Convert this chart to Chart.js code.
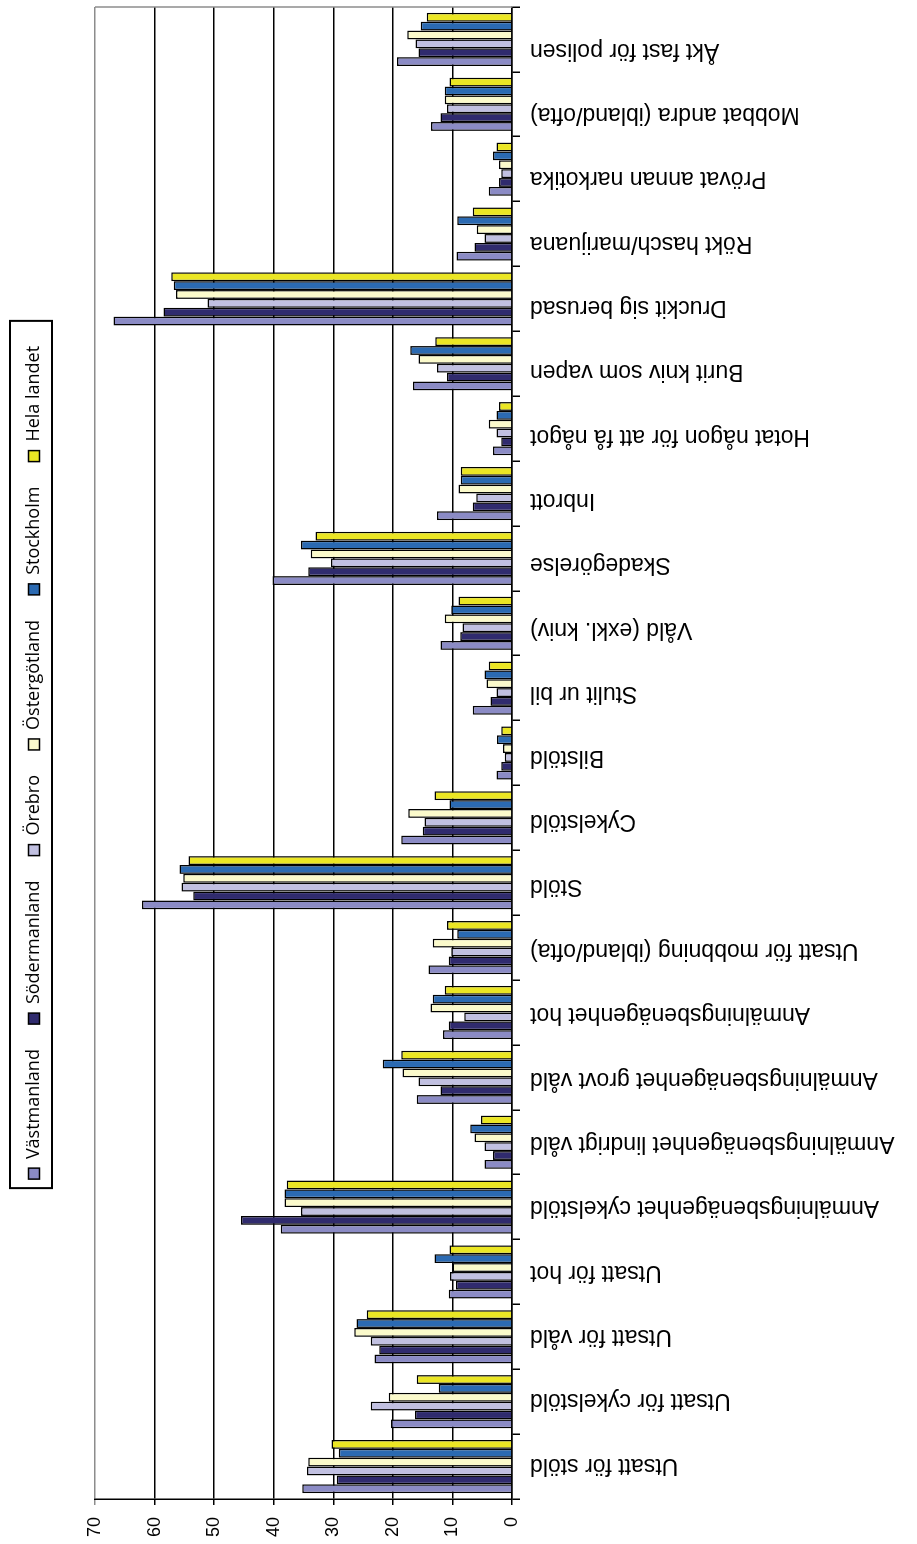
<!DOCTYPE html>
<html>
<head>
<meta charset="utf-8">
<script src="https://cdn.jsdelivr.net/npm/chart.js@4/dist/chart.umd.min.js"></script>
<style>
	html, body { margin:0; padding:0; background:#fff; }
	body { width:917px; height:1544px; overflow:hidden; position:relative; }
	/* diagrammet ritas liggande och vrids sedan -90 grader */
	#wrap { position:absolute; left:0; top:0; width:1544px; height:917px;
		transform-origin:0 0; transform:translateY(1544px) rotate(-90deg); }
</style>
</head>
<body>
<div id="wrap"><canvas id="myChart" width="1544" height="917" style="width:1544px;height:917px"></canvas></div>
<script>
	// kategorier
	var labels = ['Utsatt för stöld', 'Utsatt för cykelstöld', 'Utsatt för våld', 'Utsatt för hot',
		'Anmälningsbenägenhet cykelstöld', 'Anmälningsbenägenhet lindrigt våld', 'Anmälningsbenägenhet grovt våld',
		'Anmälningsbenägenhet hot', 'Utsatt för mobbning (ibland/ofta)', 'Stöld', 'Cykelstöld', 'Bilstöld',
		'Stulit ur bil', 'Våld (exkl. kniv)', 'Skadegörelse', 'Inbrott', 'Hotat någon för att få något',
		'Burit kniv som vapen', 'Druckit sig berusad', 'Rökt hasch/marijuana', 'Prövat annan narkotika',
		'Mobbat andra (ibland/ofta)', 'Åkt fast för polisen'];

	// procent per län
	var vastmanland  = [35.2, 20.3, 23.1, 10.6, 38.8, 4.6, 16.0, 11.6, 14.0, 62.1, 18.6, 2.6, 6.6, 12.0, 40.2, 12.6, 3.2, 16.6, 66.9, 9.3, 3.9, 13.6, 19.3];
	var sodermanland = [29.4, 16.3, 22.3, 9.4, 45.5, 3.2, 12.0, 10.6, 10.6, 53.5, 15.0, 1.8, 3.6, 8.7, 34.2, 6.6, 1.8, 10.9, 58.5, 6.3, 2.2, 12.0, 15.7];
	var orebro       = [34.4, 23.7, 23.7, 10.4, 35.4, 4.6, 15.7, 8.0, 10.2, 55.5, 14.7, 1.2, 2.6, 8.3, 30.4, 6.0, 2.6, 12.6, 51.1, 4.6, 1.8, 10.9, 16.2];
	var ostergotland = [34.2, 20.7, 26.5, 10.0, 38.2, 6.3, 18.4, 13.7, 13.3, 55.2, 17.4, 1.5, 4.3, 11.3, 33.8, 9.0, 3.9, 15.7, 56.4, 5.9, 2.2, 11.3, 17.6];
	var stockholm    = [29.1, 12.3, 26.1, 13.0, 38.2, 7.0, 21.7, 13.3, 9.2, 55.8, 10.5, 2.5, 4.6, 10.2, 35.4, 8.6, 2.6, 17.1, 56.8, 9.2, 3.2, 11.3, 15.3];
	var helaLandet   = [30.3, 16.0, 24.4, 10.5, 37.8, 5.2, 18.6, 11.3, 10.9, 54.3, 13.0, 1.8, 3.9, 9.0, 33.0, 8.6, 2.2, 12.9, 57.2, 6.6, 2.6, 10.5, 14.3];

	// värdeaxel
	var axisMax = 70;
	var axisStep = 10;

	// ram runt legenden + grå kant till höger
	var framePlugin = {
		id: 'frame',
		beforeInit: function(chart) {
			var fit = chart.legend.fit;
			chart.legend.fit = function() {
				fit.bind(chart.legend)();
				this.height += 42;
			};
		},
		afterLayout: function(chart) {
			// legenden sitter lite till höger i originalet
			chart.legend.left += 13;
			chart.legend.right += 13;
		},
		afterDraw: function(chart) {
			var c = chart.ctx;
			var a = chart.chartArea;
			c.save();
			c.strokeStyle = '#8c8c8c';
			c.lineWidth = 1.5;
			c.beginPath();
			c.moveTo(a.right, a.top);
			c.lineTo(a.right, a.bottom);
			c.stroke();
			var hb = chart.legend.legendHitBoxes;
			if (hb && hb.length) {
				var first = hb[0], last = hb[hb.length - 1];
				var mid = first.top + first.height / 2;
				c.strokeStyle = '#000';
				c.lineWidth = 2;
				c.strokeRect(first.left - 9, mid - 24, last.left + last.width + 25 - (first.left - 9), 42);
			}
			c.restore();
		}
	};

	function noSidePadding(scale) {
		scale.paddingLeft = 0;
		scale.paddingRight = 0;
	}

	var ctx = document.getElementById('myChart').getContext('2d');
	var chart = new Chart(ctx, {
		type: 'bar',
		data: {
			labels: labels,
			datasets: [
				{ label: 'Västmanland', data: vastmanland, backgroundColor: '#8b8bc5' },
				{ label: 'Södermanland', data: sodermanland, backgroundColor: '#302b6e' },
				{ label: 'Örebro', data: orebro, backgroundColor: '#c1c0e1' },
				{ label: 'Östergötland', data: ostergotland, backgroundColor: '#fbfacb' },
				{ label: 'Stockholm', data: stockholm, backgroundColor: '#2b6ab2' },
				{ label: 'Hela landet', data: helaLandet, backgroundColor: '#ebe624' }
			]
		},
		options: {
			responsive: false,
			animation: false,
			devicePixelRatio: 1,
			layout: { padding: { top: 0, right: 7, bottom: 0, left: 0 } },
			datasets: {
				bar: {
					xAxisID: 'x',
					borderColor: '#000',
					borderWidth: 1.5,
					categoryPercentage: 0.82,
					barPercentage: 1.0
				}
			},
			plugins: {
				tooltip: { enabled: false },
				legend: {
					position: 'top',
					labels: {
						color: '#000',
						boxWidth: 11,
						boxHeight: 11,
						padding: 25,
						font: { family: 'Open Sans', size: 18 }
					}
				}
			},
			scales: {
				// kategoriaxeln: bara linje och streck
				x: {
					weight: 0,
					grid: { drawOnChartArea: false, color: '#000', tickLength: 8, lineWidth: 1.5 },
					border: { color: '#000', width: 1.5 },
					ticks: { display: false },
					afterFit: function(scale) { scale.height = 8; noSidePadding(scale); }
				},
				// texterna under axeln (lite tätare än staplarna, som i originalet)
				xl: {
					type: 'linear',
					position: 'bottom',
					weight: 1,
					offset: false,
					min: -0.53,
					max: 22.67,
					grid: { display: false, drawTicks: false, offset: false },
					border: { display: false },
					ticks: {
						stepSize: 1,
						color: '#000',
						autoSkip: false,
						minRotation: 90,
						maxRotation: 90,
						padding: 10,
						font: { family: 'Liberation Sans', size: 23 },
						callback: function(v) { return Number.isInteger(v) && labels[v] ? labels[v] : ''; }
					},
					afterFit: function(scale) { scale.height = 397; noSidePadding(scale); }
				},
				y: {
					min: 0,
					max: axisMax,
					grid: {
						color: function(c) { return c.tick && c.tick.value === axisMax ? '#8c8c8c' : '#000'; },
						lineWidth: 1.5,
						tickLength: 6
					},
					border: { color: '#000', width: 1.5 },
					ticks: {
						stepSize: axisStep,
						color: '#000',
						padding: 12,
						font: { family: 'Liberation Sans', size: 18 }
					},
					afterFit: function(scale) { scale.width = 45; }
				}
			}
		},
		plugins: [framePlugin]
	});
</script>
</body>
</html>
